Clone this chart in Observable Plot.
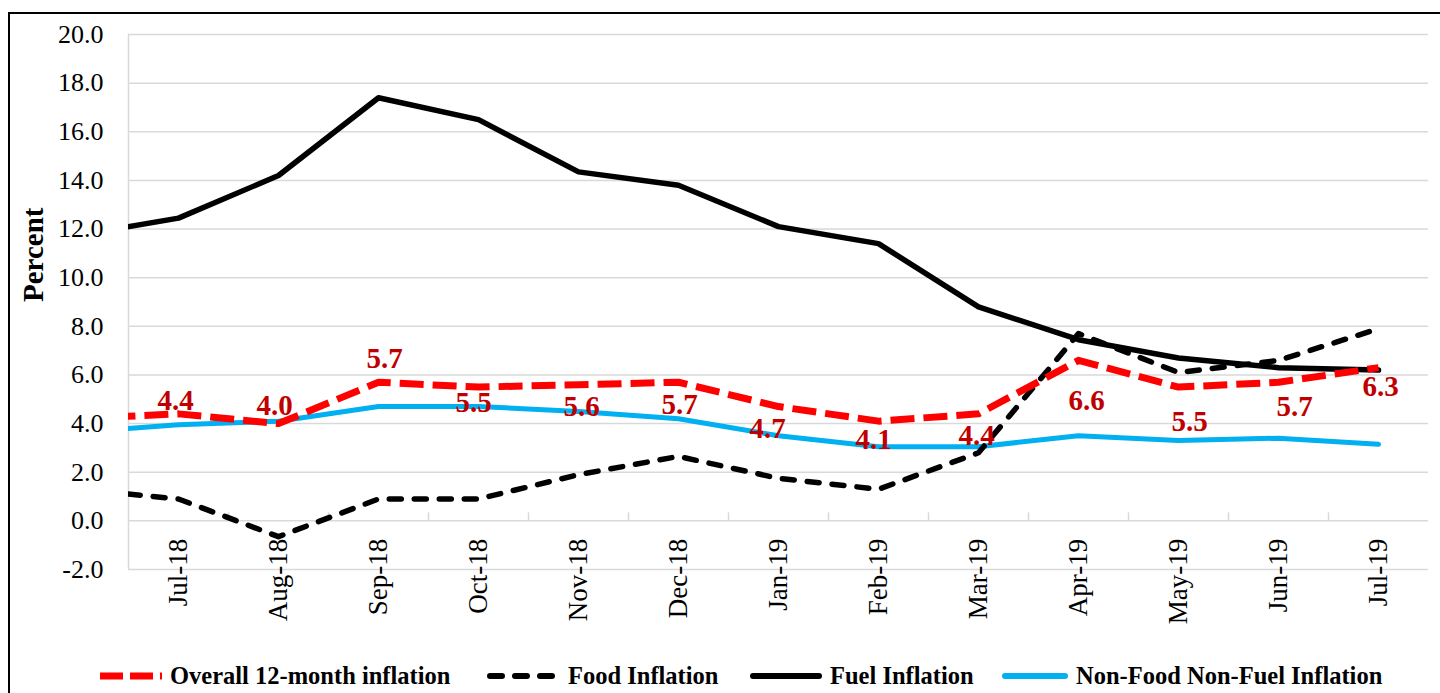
<!DOCTYPE html>
<html>
<head>
<meta charset="utf-8">
<script src="https://cdn.jsdelivr.net/npm/d3@7"></script>
<script src="https://cdn.jsdelivr.net/npm/@observablehq/plot@0.6"></script>
<style>
  html, body { margin: 0; padding: 0; background: #fff; overflow: hidden; width: 1440px; height: 693px; }
  #frame { position: absolute; left: 8px; top: 12px; width: 1500px; height: 800px;
           border-left: 2px solid #000; border-top: 2px solid #000; box-sizing: border-box; }
  #chart { position: absolute; left: 0; top: 0; }
  .leg { position: absolute; top: 662px; height: 28px; display: flex; align-items: center;
         font-family: "Liberation Serif", "Times New Roman", serif; font-weight: bold; font-size: 24.5px; color: #000; white-space: nowrap; }
  .leg svg { margin-right: 8px; }
</style>
</head>
<body>
<div id="frame"></div>
<div id="chart"></div>
<div id="legend"></div>
<script>
// ---- data (Jun-18 point sits beyond the left edge of the plot and is clipped) ----
const months  = ["Jun-18","Jul-18","Aug-18","Sep-18","Oct-18","Nov-18","Dec-18","Jan-19","Feb-19","Mar-19","Apr-19","May-19","Jun-19","Jul-19"];
const overall = [4.2, 4.4, 4.0, 5.7, 5.5, 5.6, 5.7, 4.7, 4.1, 4.4, 6.6, 5.5, 5.7, 6.3];
const food    = [1.3, 0.9, -0.65, 0.9, 0.9, 1.9, 2.65, 1.75, 1.3, 2.8, 7.7, 6.1, 6.6, 7.9];
const fuel    = [11.75, 12.45, 14.2, 17.4, 16.5, 14.35, 13.8, 12.1, 11.4, 8.8, 7.45, 6.7, 6.3, 6.2];
const nfnf    = [3.65, 3.95, 4.1, 4.7, 4.7, 4.5, 4.2, 3.5, 3.05, 3.05, 3.5, 3.3, 3.4, 3.15];
const yTicks  = [-2, 0, 2, 4, 6, 8, 10, 12, 14, 16, 18, 20];
const seriesNames = ["Overall 12-month inflation", "Food Inflation", "Fuel Inflation", "Non-Food Non-Fuel Inflation"];
// label nudges (px) for the overall-inflation data labels, Jul-18 .. Jul-19
const labelDx = [-3, -4, 6, -5, 3, 1, -11, -5, -2, 8, 11, 16, 2];
const labelDy = [-13, -18, -24, 16, 22, 22, 22, 19, 22, 40, 35, 24, 19];

const serif = "'Liberation Serif', 'Times New Roman', serif";
const idx = months.map((m, i) => i);
const rows = arr => idx.map(i => ({i, v: arr[i], m: months[i]}));
const shown = idx.filter(i => i >= 1);
const bounds = shown.slice(0, -1).map(i => i + 0.5);

const labelMarks = shown.map((i, k) => Plot.text([{i, v: overall[i]}], {
  x: "i", y: "v", text: d => d.v.toFixed(1),
  dx: labelDx[k], dy: labelDy[k],
  fill: "#C00000", fontSize: 29, fontWeight: "bold", fontFamily: serif
}));

const plot = Plot.plot({
  width: 1440, height: 650,
  marginTop: 34, marginLeft: 128, marginRight: 12, marginBottom: 81,
  style: {fontFamily: serif, fontSize: "26px", color: "#000", background: "transparent", overflow: "visible"},
  x: {type: "linear", domain: [0.5, 13.5], axis: null},
  y: {domain: [-2, 20], ticks: yTicks, tickFormat: d => d.toFixed(1), tickSize: 0, tickPadding: 25, label: null},
  marks: [
    Plot.ruleY(yTicks, {stroke: "#D9D9D9", strokeWidth: 1.5}),
    Plot.ruleX([0.5], {y1: -2, y2: 20, stroke: "#D9D9D9", strokeWidth: 1.5}),
    Plot.ruleX(bounds, {x: d => d, y1: 0, y2: 0, insetBottom: 8, stroke: "#D9D9D9", strokeWidth: 1.5}),
    Plot.text(shown, {x: d => d, y: () => 0, text: d => months[d], rotate: -90, textAnchor: "end",
      dy: 18, fontSize: 27, fill: "#000", fontFamily: serif}),
    Plot.text([seriesNames[0]], {frameAnchor: "left", text: () => "Percent", dx: -95, rotate: -90,
      fontSize: 29, fontWeight: "bold", fill: "#000", fontFamily: serif}),
    Plot.line(rows(nfnf), {x: "i", y: "v", stroke: "#00B0F0", strokeWidth: 5, clip: true}),
    Plot.line(rows(fuel), {x: "i", y: "v", stroke: "#000", strokeWidth: 5.5, strokeLinejoin: "round", clip: true}),
    Plot.line(rows(food), {x: "i", y: "v", stroke: "#000", strokeWidth: 5.5, strokeDasharray: "12,13",
      strokeLinecap: "round", clip: true}),
    Plot.line(rows(overall), {x: "i", y: "v", stroke: "#FF0000", strokeWidth: 7, strokeDasharray: "24,9",
      strokeLinecap: "butt", clip: true}),
    ...labelMarks
  ]
});
document.getElementById("chart").appendChild(plot);

// ---- legend ----
const legendItems = [
  {name: seriesNames[0], left: 100, w: 62, stroke: "#FF0000", sw: 7, dash: "23,7", cap: "butt"},
  {name: seriesNames[1], left: 487, w: 73, stroke: "#000", sw: 6, dash: "12,13", cap: "round"},
  {name: seriesNames[2], left: 750, w: 72, stroke: "#000", sw: 6, dash: null, cap: "round"},
  {name: seriesNames[3], left: 1002, w: 66, stroke: "#00B0F0", sw: 6, dash: null, cap: "round"}
];
const leg = document.getElementById("legend");
for (const it of legendItems) {
  const div = document.createElement("div");
  div.className = "leg";
  div.style.left = it.left + "px";
  const pad = it.cap === "round" ? it.sw / 2 : 0;
  div.innerHTML = `<svg width="${it.w}" height="12"><line x1="${pad}" x2="${it.w - pad}" y1="6" y2="6" stroke="${it.stroke}" stroke-width="${it.sw}" ${it.dash ? `stroke-dasharray="${it.dash}"` : ""} stroke-linecap="${it.cap}"/></svg><span>${it.name}</span>`;
  leg.appendChild(div);
}
</script>
</body>
</html>
